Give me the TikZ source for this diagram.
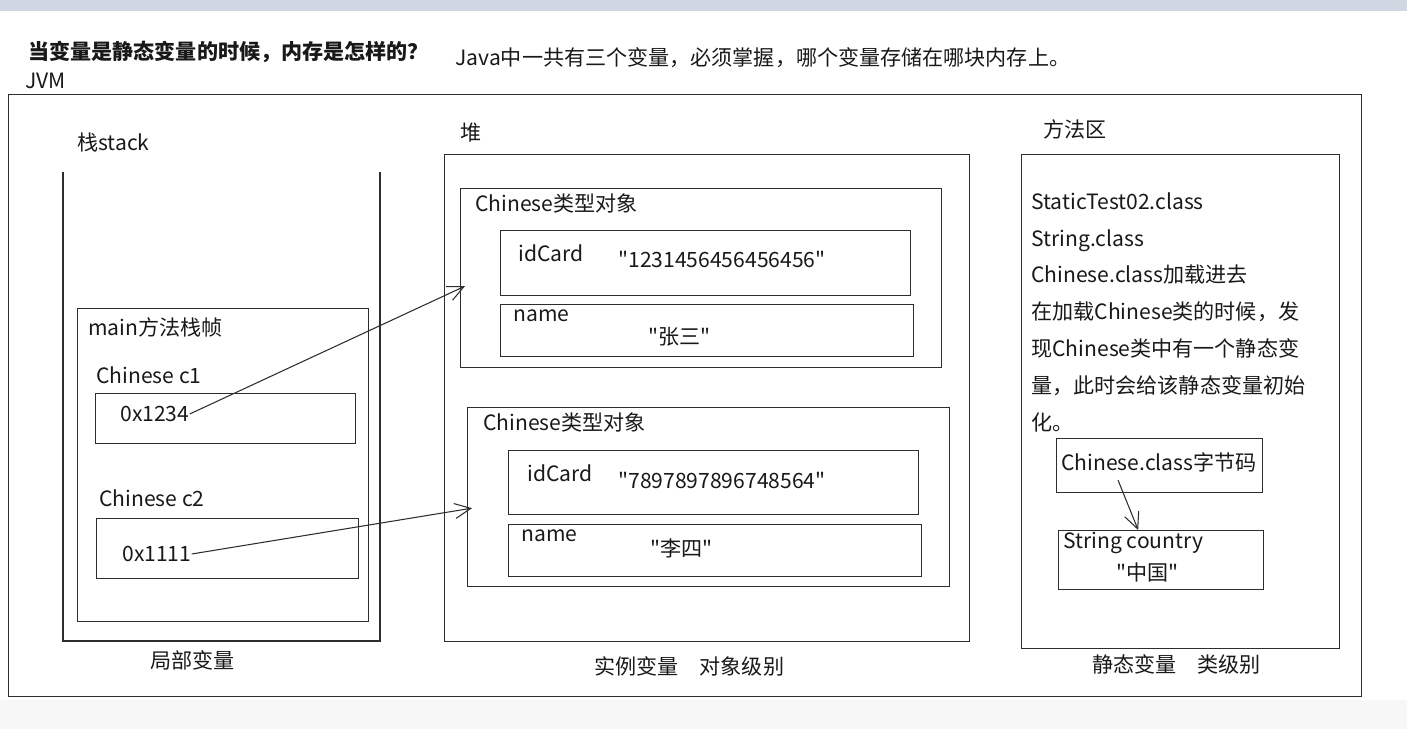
\documentclass[tikz,border=0pt]{standalone}
\usepackage{fontspec}
\setmainfont{Noto Sans CJK SC}[Ligatures=TeXOff]
\usetikzlibrary{arrows.meta,positioning}
\definecolor{cline}{RGB}{45,45,45}
\definecolor{ctext}{RGB}{25,25,25}
\definecolor{cbar}{RGB}{208,215,226}
\newcommand{\pxu}{0.02cm}

\begin{document}
\begin{tikzpicture}[
  x=0.02cm, y=-0.02cm,
  font=\fontsize{12}{14}\selectfont, text=ctext,
  box/.style={draw=cline, line width=0.75pt, anchor=north west, inner sep=0pt},
  rbox/.style 2 args={box, minimum width=#1*\pxu, minimum height=#2*\pxu},
  lbl/.style={anchor=west, inner sep=0pt},
  frame/.style={draw=cline, line width=0.75pt},
  ar/.style={-{Straight Barb[length=3.2mm, width=3mm]}, line width=0.6pt, cline},
]
\useasboundingbox (0,0) rectangle (1407,729);
\fill[cbar] (0,0) rectangle (1407,11);
\fill[black!3] (0,700) rectangle (1407,729);

% ---- headings ----
\node[lbl, font=\bfseries\fontsize{12}{14}\selectfont] (title) at (28,52) {当变量是静态变量的时候，内存是怎样的？};
\node[lbl] (note) at (455,58) {Java中一共有三个变量，必须掌握，哪个变量存储在哪块内存上。};
\node[lbl] (jvmlbl) at (25,81) {JVM};
\node[rbox={1353}{602}] (jvm) at (8,94) {};

% ---- stack ----
\node[lbl] (stacklbl) at (77,142) {栈stack};
\coordinate (stl) at (63,172);
\coordinate (str) at (380,172);
\draw[frame] (stl) |- (380,641) -- (str);
\node[rbox={291}{313}] (mainfr) at (77,308) {};
\node[lbl] (mainlbl) at (88,327) {main方法栈帧};
\node[lbl] (c1lbl) at (96,375) {Chinese c1};
\node[rbox={260}{50}] (c1box) at (95,393) {};
\node[lbl] (c1val) at (120,414) {0x1234};
\node[lbl] (c2lbl) at (99,498) {Chinese c2};
\node[rbox={262}{60}] (c2box) at (96,518) {};
\node[lbl] (c2val) at (122,554) {0x1111};
\node[lbl] (locallbl) at (150,660) {局部变量};

% ---- heap ----
\node[lbl] (heaplbl) at (460,133) {堆};
\node[rbox={525}{487}] (heap) at (444,154) {};
\node[rbox={481}{179}] (obj1) at (460,188) {};
\node[lbl] (obj1lbl) at (475,203) {Chinese类型对象};
\node[rbox={410}{65}] (id1) at (500,230) {};
\node[lbl] (id1lbl) at (518,253) {idCard};
\node[lbl] (id1val) at (618,260) {"1231456456456456"};
\node[rbox={413}{52}] (nm1) at (500,304) {};
\node[lbl] (nm1lbl) at (513,316) {name};
\node[lbl] (nm1val) at (648,337) {"张三"};
\node[rbox={482}{179}] (obj2) at (467,407) {};
\node[lbl] (obj2lbl) at (483,422) {Chinese类型对象};
\node[rbox={410}{64}] (id2) at (508,450) {};
\node[lbl] (id2lbl) at (527,473) {idCard};
\node[lbl] (id2val) at (618,481) {"7897897896748564"};
\node[rbox={413}{52}] (nm2) at (508,524) {};
\node[lbl] (nm2lbl) at (521,536) {name};
\node[lbl] (nm2val) at (650,548) {"李四"};
\node[lbl] (instlbl) at (594,666) {实例变量\quad 对象级别};

% ---- method area ----
\node[lbl] (methlbl) at (1043,129) {方法区};
\node[rbox={318}{494}] (meth) at (1021,154) {};
\node[anchor=north west, inner sep=0pt, align=left, font=\fontsize{12}{21}\selectfont] (methtxt) at (1031,192)
  {StaticTest02.class\\String.class\\Chinese.class加载进去\\在加载Chinese类的时候，发\\现Chinese类中有一个静态变\\量，此时会给该静态变量初始\\化。};
\node[rbox={206}{54}] (bc) at (1056,438) {};
\node[lbl] (bctxt) at (1061,462) {Chinese.class字节码};
\node[rbox={205}{59}] (country) at (1058,530) {};
\node[lbl] (countrylbl) at (1063,543) {String country};
\node[lbl] (countryval) at (1116,572) {"中国"};
\node[lbl] (staticlbl) at (1092,664) {静态变量\quad 类级别};

% ---- references ----
\draw[ar] (c1val.east) -- ([xshift=5*\pxu, yshift=-8*\pxu]obj1.west);
\draw[ar] (c2val.east) -- ([xshift=5*\pxu, yshift=-11*\pxu]obj2.west);
\draw[ar] ([xshift=-41*\pxu, yshift=-8*\pxu]bctxt.south) -- ([xshift=-23*\pxu]country.north);
\end{tikzpicture}
\end{document}
